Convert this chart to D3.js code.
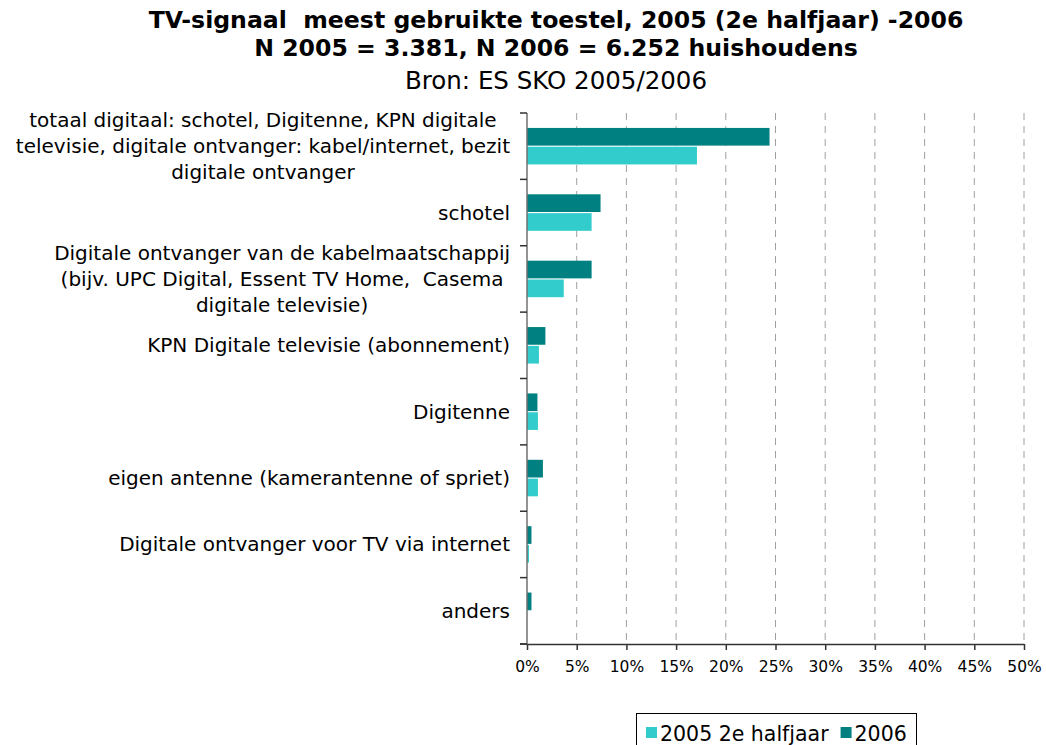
<!DOCTYPE html>
<html>
<head>
<meta charset="utf-8">
<script src="https://cdn.jsdelivr.net/npm/d3@7"></script>
<style>
  body { margin: 0; background: #fff; }
  text { font-family: "DejaVu Sans", Verdana, sans-serif; white-space: pre; }
</style>
</head>
<body>
<div id="canvas"></div>
<script>
"use strict"

// categories, each one a list of label lines
let categories = [
    ["totaal digitaal: schotel, Digitenne, KPN digitale", "televisie, digitale ontvanger: kabel/internet, bezit", "digitale ontvanger"],
    ["schotel"],
    ["Digitale ontvanger van de kabelmaatschappij", "(bijv. UPC Digital, Essent TV Home,  Casema", "digitale televisie)"],
    ["KPN Digitale televisie (abonnement)"],
    ["Digitenne"],
    ["eigen antenne (kamerantenne of spriet)"],
    ["Digitale ontvanger voor TV via internet"],
    ["anders"]
];
let seriesNames = ["2005 2e halfjaar", "2006"];
let values2005 = [0.171, 0.065, 0.037, 0.012, 0.011, 0.011, 0.002, 0.0];
let values2006 = [0.244, 0.074, 0.065, 0.0185, 0.0105, 0.016, 0.0045, 0.0045];
let tickValues = [0, 0.05, 0.10, 0.15, 0.20, 0.25, 0.30, 0.35, 0.40, 0.45, 0.50];
let titleLines = ["TV-signaal  meest gebruikte toestel, 2005 (2e halfjaar) -2006", "N 2005 = 3.381, N 2006 = 6.252 huishoudens"];
let sourceLine = "Bron: ES SKO 2005/2006";

let colors = {"2005 2e halfjaar": "#33CCCC", "2006": "#008080"};

/* set up the drawing canvas */
let drawing = d3.select("#canvas")
    .append("svg")
    .attr("width", 1046)
    .attr("height", 745);

let x = d3.scaleLinear().domain([0, 0.5]).range([527, 1024]);
let y = d3.scaleBand().domain(d3.range(categories.length)).range([113, 644]).padding(0);
// inside one category: 2006 on top, 2005 below
let inner = d3.scaleBand().domain(["2006", "2005 2e halfjaar"])
    .range([y.bandwidth() * 0.225, y.bandwidth() * 0.775]).paddingInner(0.06);

/* titles */
drawing.selectAll("text.title")
    .data(titleLines)
    .enter().append("text")
    .attr("class", "title")
    .attr("x", 556)
    .attr("y", (d, i) => 28 + i * 28)
    .attr("text-anchor", "middle")
    .attr("font-size", 23.6)
    .attr("font-weight", "bold")
    .text(d => d);

drawing.append("text")
    .attr("x", 556)
    .attr("y", 89)
    .attr("text-anchor", "middle")
    .attr("font-size", 24.5)
    .text(sourceLine);

/* gridlines */
drawing.selectAll("line.grid")
    .data(tickValues.slice(1))
    .enter().append("line")
    .attr("class", "grid")
    .attr("x1", d => x(d))
    .attr("x2", d => x(d))
    .attr("y1", 113)
    .attr("y2", 644)
    .attr("stroke", "#a0a0a0")
    .attr("stroke-width", 1)
    .attr("stroke-dasharray", "7,6");

/* bars */
let groups = drawing.selectAll("g.cat")
    .data(categories.map((c, i) => ({i: i, v2005: values2005[i], v2006: values2006[i]})))
    .enter().append("g")
    .attr("class", "cat")
    .attr("transform", d => "translate(0," + y(d.i) + ")");

groups.append("rect")
    .attr("x", x(0))
    .attr("y", inner("2006"))
    .attr("width", d => x(d.v2006) - x(0))
    .attr("height", inner.bandwidth())
    .attr("fill", colors["2006"]);

groups.append("rect")
    .attr("x", x(0))
    .attr("y", inner("2005 2e halfjaar"))
    .attr("width", d => x(d.v2005) - x(0))
    .attr("height", inner.bandwidth())
    .attr("fill", colors["2005 2e halfjaar"]);

/* category labels: centred lines, block right edge at 510 */
let lineHeight = 26;
categories.forEach(function (lines, i) {
    let g = drawing.append("g");
    let texts = g.selectAll("text")
        .data(lines)
        .enter().append("text")
        .attr("font-size", 20)
        .attr("text-anchor", "middle")
        .attr("y", (d, j) => y(i) + y.bandwidth() / 2 + 7 + (j - (lines.length - 1) / 2) * lineHeight)
        .text(d => d);
    let maxW = 0;
    texts.each(function () { maxW = Math.max(maxW, this.getComputedTextLength()); });
    texts.attr("x", 510 - maxW / 2);
});

/* category axis */
drawing.append("line")
    .attr("x1", x(0)).attr("x2", x(0))
    .attr("y1", 113).attr("y2", 644)
    .attr("stroke", "#707070")
    .attr("stroke-width", 1.5);

drawing.selectAll("line.ytick")
    .data(d3.range(categories.length + 1))
    .enter().append("line")
    .attr("class", "ytick")
    .attr("x1", x(0) - 7).attr("x2", x(0))
    .attr("y1", d => 113 + d * y.step())
    .attr("y2", d => 113 + d * y.step())
    .attr("stroke", "#333")
    .attr("stroke-width", 1.5);

/* value axis */
let xAxis = drawing.append("g")
    .attr("transform", "translate(0,644)")
    .call(d3.axisBottom(x).tickValues(tickValues).tickFormat(d3.format(".0%")).tickSize(6).tickSizeOuter(0));
xAxis.select(".domain").attr("stroke", "#333").attr("stroke-width", 1.5);
xAxis.selectAll(".tick line").attr("stroke", "#333").attr("stroke-width", 1.5);
xAxis.selectAll(".tick text")
    .attr("font-family", "DejaVu Sans, Verdana, sans-serif")
    .attr("font-size", 15.5)
    .attr("fill", "#000")
    .attr("dy", "1.2em");
drawing.append("line")
    .attr("x1", x(0) - 7).attr("x2", x(0))
    .attr("y1", 644).attr("y2", 644)
    .attr("stroke", "#333").attr("stroke-width", 1.5);

/* legend */
let legend = drawing.append("g");
legend.append("rect")
    .attr("x", 636.5).attr("y", 713.5)
    .attr("width", 280).attr("height", 40)
    .attr("fill", "#fff")
    .attr("stroke", "#000");

let legX = 646;
seriesNames.forEach(function (name) {
    legend.append("rect")
        .attr("x", legX).attr("y", 727)
        .attr("width", 11).attr("height", 11)
        .attr("fill", colors[name]);
    let t = legend.append("text")
        .attr("x", legX + 14).attr("y", 741)
        .attr("font-size", 20.5)
        .text(name);
    legX += 14 + t.node().getComputedTextLength() + 12;
});
</script>
</body>
</html>
